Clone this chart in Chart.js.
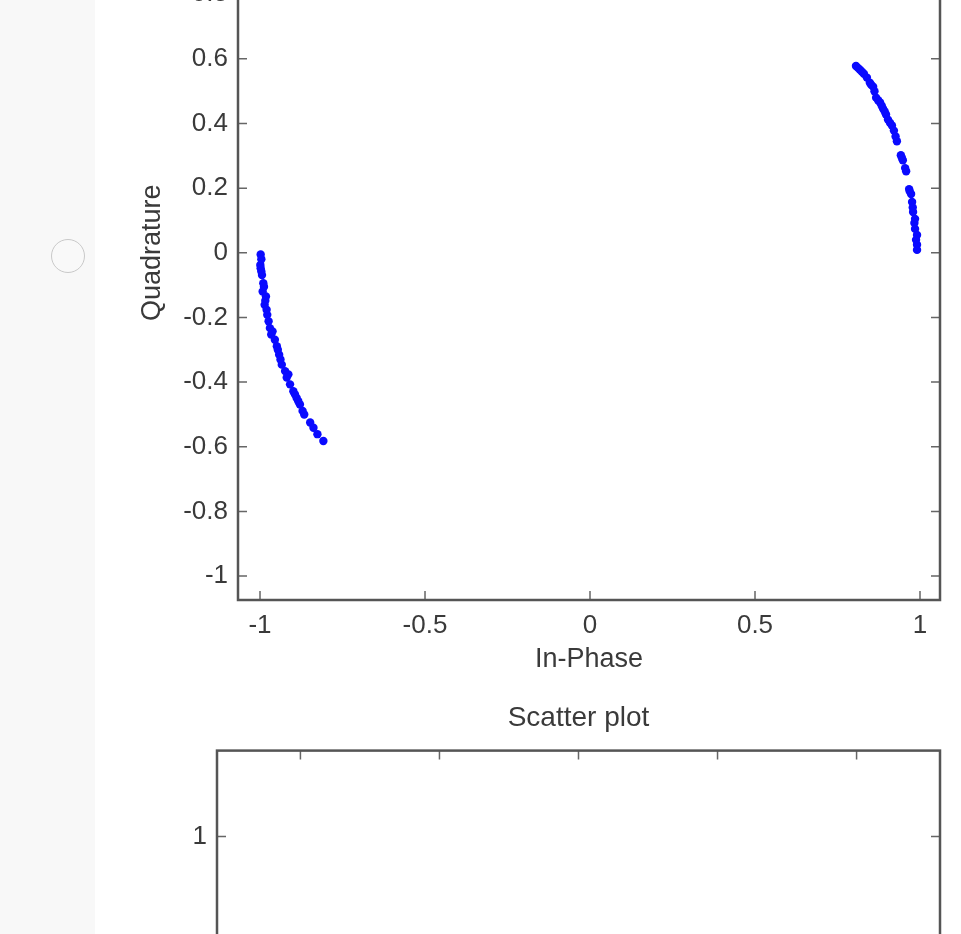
<!DOCTYPE html>
<html>
<head>
<meta charset="utf-8">
<script src="https://cdn.jsdelivr.net/npm/chart.js@4.4.1/dist/chart.umd.min.js"></script>
<style>
  html, body { margin: 0; padding: 0; background: #fff; overflow: hidden; }
  body { width: 961px; height: 934px; position: relative; }
  #strip { position: absolute; left: 0; top: 0; width: 95px; height: 934px; background: #f8f8f8; }
  #radio { position: absolute; left: 51px; top: 239px; width: 32px; height: 32px; border: 1.5px solid #c9c9c9; border-radius: 50%; background: #f9f9f9; }
  canvas { position: absolute; left: 0; filter: blur(0.6px); }
  #iq { top: -120px; }
  #scatter2 { top: 695px; }
</style>
</head>
<body>
<div id="strip"></div>
<div id="radio"></div>
<canvas id="iq" width="961" height="800"></canvas>
<canvas id="scatter2" width="961" height="881"></canvas>
<script>
// points (In-Phase / Quadrature)
const inPhase = [
  -0.998, -0.999, -0.998, -0.994, -0.990, -0.992, -0.982, -0.986, -0.978, -0.974,
  -0.970, -0.966, -0.955, -0.949, -0.942, -0.934, -0.924, -0.914, -0.909, -0.899,
  -0.889, -0.879, -0.871, -0.848, -0.838, -0.826, -0.808,
  -0.996, -0.996, -0.988, -0.984, -0.980, -0.962, -0.946, -0.938, -0.919, -0.894,
  -0.884, -0.866,
  0.806, 0.818, 0.830, 0.839, 0.848, 0.858, 0.867, 0.879, 0.888, 0.897,
  0.903, 0.915, 0.921, 0.930, 0.942, 0.948, 0.958, 0.967, 0.973, 0.976,
  0.979, 0.985, 0.985, 0.991, 0.991, 0.991,
  0.812, 0.824, 0.852, 0.862, 0.873, 0.884, 0.893, 0.909, 0.926, 0.945,
  0.955, 0.969, 0.978, 0.983, 0.988
];
const quadrature = [
  -0.005, -0.038, -0.048, -0.069, -0.094, -0.120, -0.135, -0.161, -0.192, -0.212,
  -0.233, -0.253, -0.269, -0.289, -0.315, -0.346, -0.366, -0.376, -0.407, -0.428,
  -0.449, -0.469, -0.489, -0.525, -0.541, -0.561, -0.582,
  -0.020, -0.058, -0.105, -0.148, -0.176, -0.243, -0.300, -0.330, -0.386, -0.438,
  -0.459, -0.500,
  0.578, 0.566, 0.554, 0.542, 0.526, 0.514, 0.480, 0.465, 0.446, 0.428,
  0.412, 0.394, 0.378, 0.345, 0.302, 0.286, 0.252, 0.197, 0.182, 0.157,
  0.126, 0.105, 0.074, 0.055, 0.025, 0.009,
  0.572, 0.560, 0.520, 0.500, 0.472, 0.455, 0.437, 0.402, 0.360, 0.294,
  0.262, 0.190, 0.140, 0.092, 0.040
];

const xTicks = [-1, -0.5, 0, 0.5, 1];
const yTicks = [-1, -0.8, -0.6, -0.4, -0.2, 0, 0.2, 0.4, 0.6, 0.8];
const xTicks2 = [-1, -0.5, 0, 0.5, 1];
const yTicks2 = [-1, -0.5, 0, 0.5, 1];

const textColor = '#3a3a3a';
Chart.defaults.font.family = '"Liberation Sans", Arial, sans-serif';
Chart.defaults.color = textColor;

// cadre façon matlab, graduations vers l'intérieur
const frame = {
  id: 'frame',
  afterDraw(chart) {
    const {ctx, chartArea: a, scales: {x, y}} = chart;
    const len = 9;
    ctx.save();
    ctx.strokeStyle = '#666';
    ctx.lineWidth = 1.5;
    ctx.beginPath();
    x.ticks.forEach(t => {
      const px = x.getPixelForValue(t.value);
      ctx.moveTo(px, a.bottom); ctx.lineTo(px, a.bottom - len);
      ctx.moveTo(px, a.top); ctx.lineTo(px, a.top + len);
    });
    y.ticks.forEach(t => {
      const py = y.getPixelForValue(t.value);
      ctx.moveTo(a.left, py); ctx.lineTo(a.left + len, py);
      ctx.moveTo(a.right, py); ctx.lineTo(a.right - len, py);
    });
    ctx.stroke();
    ctx.strokeStyle = '#555';
    ctx.lineWidth = 2.5;
    ctx.strokeRect(a.left, a.top, a.right - a.left, a.bottom - a.top);
    ctx.restore();
  }
};

const fmt = v => String(+v.toFixed(2));

new Chart(document.getElementById('iq'), {
  type: 'scatter',
  data: {
    datasets: [{
      data: inPhase.map((v, i) => ({x: v, y: quadrature[i]})),
      backgroundColor: '#0a0aff',
      borderWidth: 0,
      pointRadius: 4.2
    }]
  },
  options: {
    responsive: false,
    animation: false,
    devicePixelRatio: 1,
    layout: {padding: {left: 130, right: 21, top: 22, bottom: 0}},
    plugins: {legend: {display: false}, tooltip: {enabled: false}},
    scales: {
      x: {
        type: 'linear', min: -1.0667, max: 1.0606,
        afterBuildTicks: s => { s.ticks = xTicks.map(v => ({value: v})); },
        afterFit: s => { s.height = 80; },
        grid: {display: false, drawTicks: false},
        border: {display: false},
        ticks: {padding: 10, font: {size: 26}, callback: fmt},
        title: {display: true, text: 'In-Phase', font: {size: 27}, padding: {top: 0, bottom: 4}}
      },
      y: {
        type: 'linear', min: -1.074, max: 1.074,
        afterBuildTicks: s => { s.ticks = yTicks.map(v => ({value: v})); },
        afterFit: s => { s.width = 108; },
        grid: {display: false, drawTicks: false},
        border: {display: false},
        ticks: {padding: 10, font: {size: 26}, callback: fmt},
        title: {display: true, text: 'Quadrature', font: {size: 27}, padding: {top: 6, bottom: 0}}
      }
    }
  },
  plugins: [frame]
});

new Chart(document.getElementById('scatter2'), {
  type: 'scatter',
  data: {datasets: [{data: [], backgroundColor: '#0a0aff', pointRadius: 4.2}]},
  options: {
    responsive: false,
    animation: false,
    devicePixelRatio: 1,
    layout: {padding: {left: 0, right: 21, top: 0, bottom: 0}},
    plugins: {
      legend: {display: false},
      tooltip: {enabled: false},
      title: {display: true, text: 'Scatter plot', fullSize: false, font: {size: 28, weight: 'normal'}, color: textColor, padding: {top: 6, bottom: 16}}
    },
    scales: {
      x: {
        type: 'linear', min: -1.3, max: 1.3,
        afterBuildTicks: s => { s.ticks = xTicks2.map(v => ({value: v})); },
        afterFit: s => { s.height = 80; },
        grid: {display: false, drawTicks: false},
        border: {display: false},
        ticks: {padding: 10, font: {size: 26}, callback: fmt}
      },
      y: {
        type: 'linear', min: -1.3, max: 1.3,
        afterBuildTicks: s => { s.ticks = yTicks2.map(v => ({value: v})); },
        afterFit: s => { s.width = 217; },
        grid: {display: false, drawTicks: false},
        border: {display: false},
        ticks: {padding: 10, font: {size: 26}, callback: fmt}
      }
    }
  },
  plugins: [frame]
});
</script>
</body>
</html>
